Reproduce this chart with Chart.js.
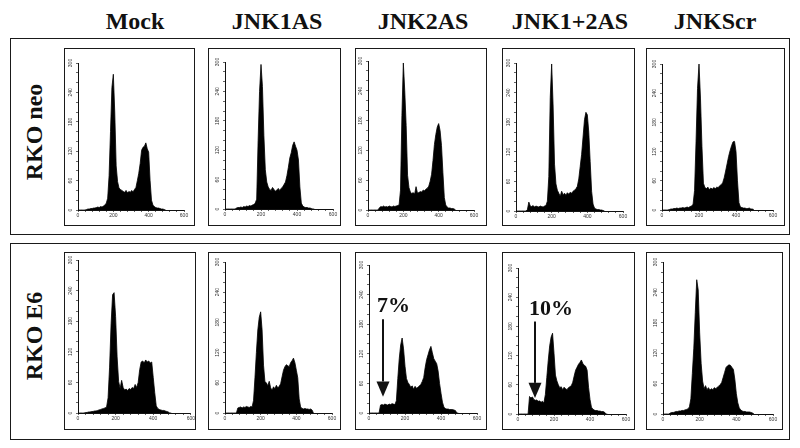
<!DOCTYPE html>
<html>
<head>
<meta charset="utf-8">
<script src="https://cdn.jsdelivr.net/npm/chart.js@4.4.1/dist/chart.umd.min.js"></script>
<style>
html,body{margin:0;padding:0;background:#fff;}
#root{position:relative;width:800px;height:448px;overflow:hidden;background:#fff;}
.frame,.box{position:absolute;box-sizing:border-box;border:1.5px solid #1a1a1a;}
.hdr{position:absolute;font-family:"Liberation Serif","Times New Roman",serif;font-weight:bold;font-size:24px;line-height:24px;color:#111;white-space:nowrap;transform:translateX(-50%);}
.row{position:absolute;font-family:"Liberation Serif","Times New Roman",serif;font-weight:bold;font-size:24px;line-height:24px;color:#111;white-space:nowrap;transform:translate(-50%,-50%) rotate(-90deg);}
canvas{position:absolute;}
</style>
</head>
<body>
<div id="root"></div>
<script>
// ---------------- data ----------------
const colLabels = ["Mock", "JNK1AS", "JNK2AS", "JNK1+2AS", "JNKScr"];
const rowLabels = ["RKO neo", "RKO E6"];
const yTickLabels = [0, 60, 120, 180, 240, 300];
const xTickLabels = [0, 200, 400, 600];

// DNA-content channel of each histogram bin
const channels = [0,8,16,24,32,40,48,56,64,72,80,88,96,104,112,120,128,136,144,152,160,168,176,184,192,200,208,216,224,232,240,248,256,264,272,280,288,296,304,312,320,328,336,344,352,360,368,376,384,392,400,408,416,424,432,440,448,456,464,472,480,488,496];

// cell counts, RKO neo row
const neoMock   = [0,0,0,0,0,0,1,2,2,3,3,4,4,5,6,5,7,6,8,10,14,24,70,160,250,277,200,90,58,45,42,40,38,36,40,35,38,36,40,37,42,46,60,75,95,122,128,130,137,125,118,60,20,10,7,5,4,4,3,2,2,1,0];
const neoJNK1AS = [0,0,0,0,0,0,0,0,2,3,3,4,3,5,4,6,5,7,6,8,9,12,20,140,240,295,250,150,80,55,45,40,38,44,40,36,39,42,38,42,45,50,55,68,85,104,115,130,137,128,120,100,45,12,6,4,3,3,2,2,1,0,0];
const neoJNK2AS = [0,0,0,0,0,0,0,0,4,7,6,8,6,7,6,8,7,6,8,7,8,9,10,40,190,296,240,170,70,45,36,33,35,32,47,34,35,37,36,40,39,42,44,48,58,72,100,132,152,167,174,160,130,75,25,10,6,4,4,3,3,2,0];
const neoJNK12AS= [0,0,0,0,0,0,0,0,3,18,10,9,11,8,10,9,8,10,9,8,10,11,20,70,230,298,215,95,55,42,36,30,40,33,36,32,37,34,38,36,40,42,45,50,65,90,115,150,185,200,195,160,100,40,14,6,4,3,3,2,2,1,0];
const neoJNKScr = [0,0,0,0,0,1,2,2,3,3,4,3,4,4,5,4,5,6,5,7,8,12,40,140,250,300,230,130,55,46,44,47,42,45,43,46,44,47,46,50,52,56,66,80,95,110,122,132,140,141,120,60,15,6,5,4,4,3,3,4,2,2,1];

// cell counts, RKO E6 row
const e6Mock    = [0,0,0,0,0,1,1,2,2,3,3,4,4,5,6,7,8,9,10,12,30,90,175,232,236,189,110,62,48,64,50,45,47,44,48,46,50,48,56,50,60,85,100,102,98,104,100,102,98,100,70,40,14,9,7,6,5,5,4,3,2,0,0];
const e6JNK1AS  = [0,0,0,0,0,0,0,0,0,10,11,12,10,12,11,13,12,11,13,12,25,70,120,165,190,201,165,95,62,60,54,63,50,45,52,48,55,50,53,58,72,85,92,96,94,92,100,104,109,100,85,70,28,12,9,8,9,8,8,7,8,6,0];
const e6JNK2AS  = [0,0,0,0,0,0,0,0,16,17,16,18,17,16,18,17,19,18,17,25,70,110,138,152,130,95,70,62,58,52,55,48,54,50,52,55,58,64,72,92,108,118,128,135,122,110,105,100,85,60,40,22,12,9,8,8,7,7,7,6,5,0,0];
const e6JNK12AS = [0,0,0,0,0,0,0,0,36,33,35,30,28,29,26,27,24,26,23,40,75,110,140,158,166,125,80,68,60,54,56,50,55,52,50,54,56,58,65,78,90,96,102,106,111,104,100,98,90,55,30,14,10,8,7,7,6,6,5,5,4,0,0];
const e6JNKScr  = [0,0,0,0,0,2,3,3,4,5,5,6,6,7,7,8,9,10,14,30,80,130,200,265,245,160,100,65,50,56,48,52,47,50,48,52,50,53,55,58,62,72,82,92,95,97,96,92,88,68,40,22,12,8,6,5,5,4,4,4,3,2,0];

// sub-G1 (apoptotic) annotations, in data units of their panel
const subG1Pct     = [7, 10];
const subG1Channel = [78, 94];

const series = [
  [neoMock, neoJNK1AS, neoJNK2AS, neoJNK12AS, neoJNKScr],
  [e6Mock, e6JNK1AS, e6JNK2AS, e6JNK12AS, e6JNKScr]
];

// ---------------- layout (pixels) ----------------
const frames = [[10,38,780,197],[10,243,780,197]];
// box: [x,y,w,h]; plot: [left,top,right,bottom]
const layout = [
  [ {box:[64,48,131,178],  plot:[78,63,184,210]},
    {box:[208,48,133,178], plot:[225,62,333,209]},
    {box:[355,48,132,178], plot:[368,61,474,210]},
    {box:[502,48,133,178], plot:[516,63,623,211]},
    {box:[646,48,139,178], plot:[662,64,773,210]} ],
  [ {box:[64,252,132,178], plot:[78,260,193,413]},
    {box:[208,252,133,178],plot:[225,262,332,413]},
    {box:[355,252,132,178],plot:[369,265,477,413]},
    {box:[502,252,133,178],plot:[518,268,626,414]},
    {box:[646,252,137,178],plot:[663,262,773,414]} ]
];
const hdrX = [135, 277, 423, 570, 715];
const rowY = [132, 336];

const root = document.getElementById('root');
frames.forEach(f => {
  const d = document.createElement('div');
  d.className = 'frame';
  Object.assign(d.style, {left:f[0]+'px', top:f[1]+'px', width:f[2]+'px', height:f[3]+'px'});
  root.appendChild(d);
});
colLabels.forEach((t, i) => {
  const d = document.createElement('div');
  d.className = 'hdr'; d.textContent = t;
  d.style.left = hdrX[i] + 'px'; d.style.top = '9px';
  root.appendChild(d);
});
rowLabels.forEach((t, i) => {
  const d = document.createElement('div');
  d.className = 'row'; d.textContent = t;
  d.style.left = '34px'; d.style.top = rowY[i] + 'px';
  root.appendChild(d);
});

const arrowNote = {
  id: 'arrowNote',
  afterDatasetsDraw(chart, args, opts) {
    if (!opts || opts.pct == null) return;
    const {ctx} = chart;
    const x = chart.scales.x, y = chart.scales.y;
    const ax = Math.round(x.getPixelForValue(opts.channel));
    const yTop = y.getPixelForValue(190);
    const yHead = y.getPixelForValue(64);
    const yBot = y.getPixelForValue(33);
    ctx.save();
    ctx.fillStyle = '#111';
    ctx.fillRect(ax - 1, yTop, 2, yHead - yTop);
    ctx.beginPath();
    ctx.moveTo(ax - 6.5, yHead); ctx.lineTo(ax + 6.5, yHead); ctx.lineTo(ax, yBot);
    ctx.closePath(); ctx.fill();
    ctx.font = 'bold 22px "Liberation Serif", serif';
    ctx.textAlign = 'left'; ctx.textBaseline = 'alphabetic';
    ctx.fillText(opts.pct + '%', ax - 6, y.getPixelForValue(204));
    ctx.restore();
  }
};

for (let r = 0; r < 2; r++) {
  for (let c = 0; c < 5; c++) {
    const L = layout[r][c];
    const [bx, by, bw, bh] = L.box;
    const [pl, pt, pr, pb] = L.plot;
    const box = document.createElement('div');
    box.className = 'box';
    Object.assign(box.style, {left:bx+'px', top:by+'px', width:bw+'px', height:bh+'px'});
    root.appendChild(box);
    const cv = document.createElement('canvas');
    cv.width = bw; cv.height = bh;
    Object.assign(cv.style, {left:bx+'px', top:by+'px', width:bw+'px', height:bh+'px'});
    root.appendChild(cv);

    const vals = series[r][c];
    const pts = channels.map((ch, i) => ({x: ch, y: vals[i]}));
    let note = {};
    if (r === 1 && (c === 2 || c === 3)) {
      const k = c - 2;
      note = {pct: subG1Pct[k], channel: subG1Channel[k]};
    }
    new Chart(cv, {
      type: 'line',
      data: { datasets: [{
        data: pts,
        borderColor: '#000', backgroundColor: '#000',
        borderWidth: 0.8, fill: 'origin', pointRadius: 0, tension: 0
      }]},
      options: {
        responsive: false, animation: false, events: [],
        devicePixelRatio: 1,
        layout: { padding: { left: 0, bottom: 0, top: pt - by, right: (bx + bw) - pr } },
        plugins: { legend: {display: false}, tooltip: {enabled: false}, arrowNote: note },
        scales: {
          x: {
            type: 'linear', min: 0, max: 600,
            afterFit: s => { s.height = (by + bh) - pb; },
            border: {display: true, color: '#111', width: 1},
            grid: {display: true, drawOnChartArea: false, drawTicks: true, tickLength: 2, color: '#222', lineWidth: 0.7},
            ticks: {
              stepSize: 40, autoSkip: false, maxRotation: 0, minRotation: 0, padding: 1,
              font: {size: 5, family: 'Liberation Sans, Arial, sans-serif'}, color: '#333',
              callback: v => xTickLabels.includes(v) ? String(v) : ''
            }
          },
          y: {
            type: 'linear', min: 0, max: 300,
            afterFit: s => { s.width = pl - bx; },
            border: {display: true, color: '#111', width: 1},
            grid: {display: true, drawOnChartArea: false, drawTicks: true, tickLength: 2, color: '#222', lineWidth: 0.7},
            ticks: {
              stepSize: 20, autoSkip: false, minRotation: 90, maxRotation: 90, padding: 1,
              crossAlign: 'center',
              font: {size: 5, family: 'Liberation Sans, Arial, sans-serif'}, color: '#333',
              callback: v => yTickLabels.includes(v) ? String(v) : ''
            }
          }
        }
      },
      plugins: [arrowNote]
    });
  }
}
</script>
</body>
</html>
